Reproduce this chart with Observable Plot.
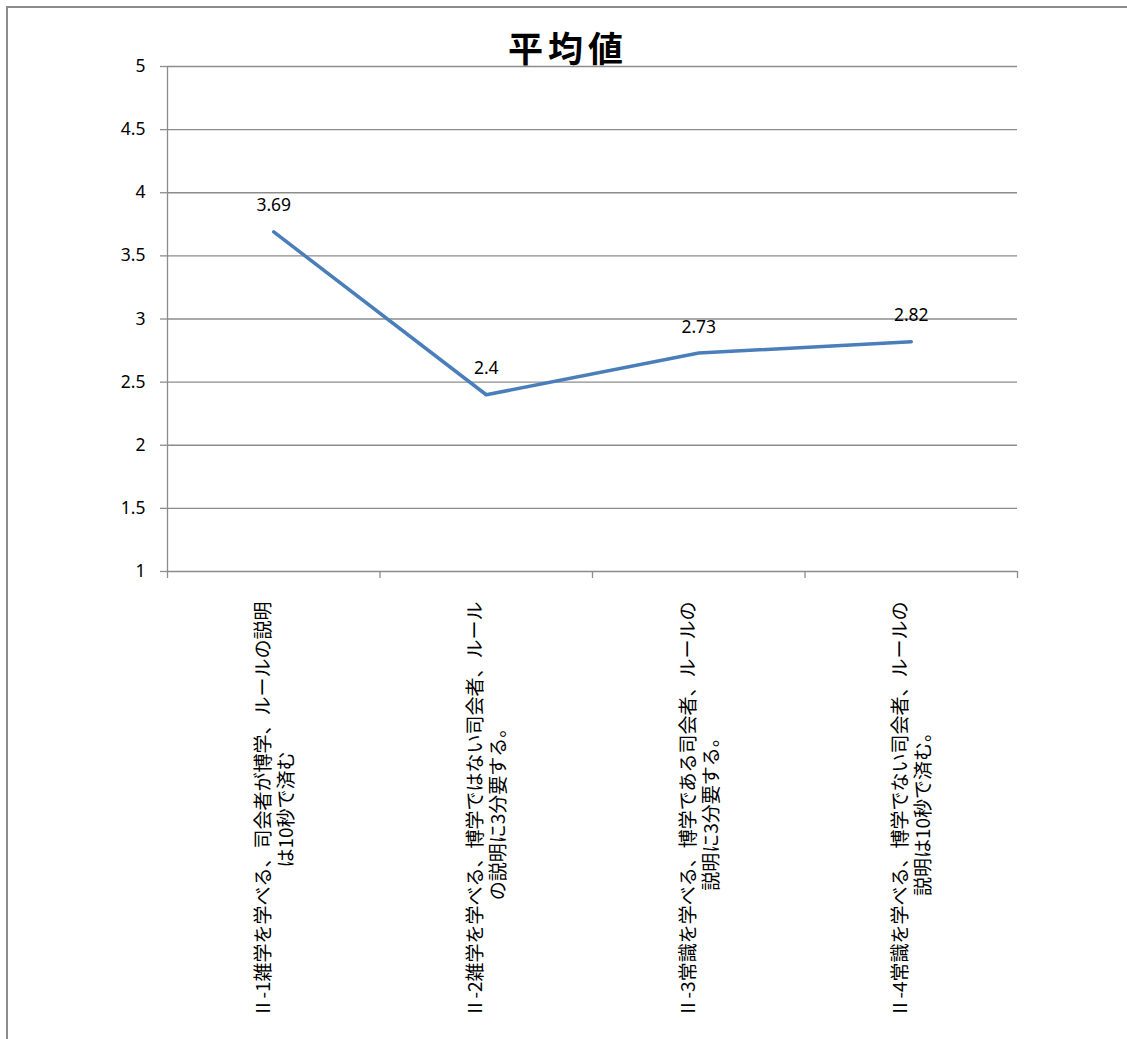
<!DOCTYPE html>
<html><head><meta charset="utf-8">
<script src="https://cdn.jsdelivr.net/npm/d3@7"></script>
<script src="https://cdn.jsdelivr.net/npm/@observablehq/plot@0.6"></script>
<style>
html,body{margin:0;padding:0;background:#fff;overflow:hidden;width:1127px;height:1039px;}
body{position:relative;}
#frame{position:absolute;left:6px;top:6px;width:1300px;height:1200px;border-left:2px solid #8c8c8c;border-top:2px solid #8c8c8c;}
#chart{position:absolute;left:0;top:0;}
#title{position:absolute;left:4px;width:1128px;top:25px;text-align:center;font-family:"Noto Sans CJK JP";font-weight:bold;font-size:35px;line-height:44px;letter-spacing:5px;color:#000;}
</style></head>
<body>
<div id="frame"></div>
<div id="chart"></div>
<div id="title">平均値</div>
<script>
const categories = [
  "Ⅱ-1雑学を学べる、司会者が博学、ルールの説明\nは10秒で済む",
  "Ⅱ-2雑学を学べる、博学ではない司会者、ルール\nの説明に3分要する。",
  "Ⅱ-3常識を学べる、博学である司会者、ルールの\n説明に3分要する。",
  "Ⅱ-4常識を学べる、博学でない司会者、ルールの\n説明は10秒で済む。"
];
const values = [3.69, 2.4, 2.73, 2.82];
const valueLabels = ["3.69", "2.4", "2.73", "2.82"];
const yTicks = [1, 1.5, 2, 2.5, 3, 3.5, 4, 4.5, 5];
const xBoundaries = [0, 1, 2, 3, 4];

const data = categories.map((c, i) => ({pos: i + 0.5, label: c, value: values[i], vlabel: valueLabels[i]}));
const gray = "#8c8c8c";

const plot = Plot.plot({
  width: 1127,
  height: 1039,
  marginTop: 66,
  marginLeft: 167,
  marginRight: 110,
  marginBottom: 468,
  style: {background: "transparent", fontFamily: "Noto Sans", overflow: "visible"},
  x: {domain: [0, 4], axis: null},
  y: {domain: [1, 5], axis: null},
  marks: [
    Plot.ruleY(yTicks, {stroke: gray, strokeWidth: 1.3}),
    Plot.ruleX([0], {stroke: gray, strokeWidth: 1.3}),
    Plot.axisY({ticks: yTicks, tickSize: 7, tickPadding: 15, tickFormat: d => String(d), fontSize: 17.5, stroke: gray, strokeWidth: 1.3, strokeOpacity: 1, fill: "#000", label: null}),
    Plot.axisX({ticks: xBoundaries, tickSize: 7, tickFormat: () => "", stroke: gray, strokeWidth: 1.3, strokeOpacity: 1, label: null}),
    Plot.line(data, {x: "pos", y: "value", stroke: "#4a7ebb", strokeWidth: 3.5}),
    Plot.text(data, {x: "pos", y: "value", text: "vlabel", dy: -26, fontSize: 17.5, fill: "#000"}),
    Plot.text(data, {x: "pos", text: "label", frameAnchor: "bottom", rotate: -90, textAnchor: "middle", lineAnchor: "middle", lineHeight: 1.22, dy: 238, fontSize: 19, fill: "#000", fontFamily: "Noto Sans CJK JP"})
  ]
});
document.getElementById("chart").appendChild(plot);
</script>
</body></html>
